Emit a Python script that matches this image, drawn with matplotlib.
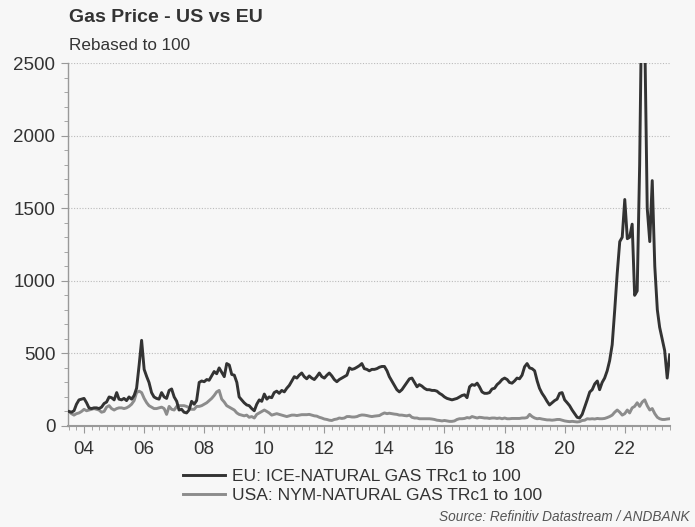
import matplotlib
matplotlib.use("Agg")
import matplotlib.pyplot as plt
import matplotlib.dates as mdates
from matplotlib.ticker import MultipleLocator
import pandas as pd

dates = pd.date_range("2003-07-01", periods=241, freq="MS")

eu = [
    # 2003 Jul-Dec
    100, 95, 105, 150, 180, 185,
    # 2004
    190, 160, 125, 120, 125, 125, 120, 130, 155, 165, 200, 195,
    # 2005
    180, 230, 185, 180, 190, 175, 200, 185, 210, 260, 420, 590,
    # 2006
    390, 340, 300, 230, 200, 190, 185, 230, 200, 190, 245, 255,
    # 2007
    200, 170, 110, 115, 95, 90, 110, 170, 150, 175, 300, 310,
    # 2008
    305, 320, 315, 345, 375, 360, 400, 370, 340, 430, 420, 355,
    # 2009
    350, 300, 200, 180, 160, 145, 140, 120, 105, 150, 180, 170,
    # 2010
    220, 185, 200, 195, 230, 240, 225, 245, 235, 260, 280, 310,
    # 2011
    340, 330, 350, 365, 340, 325, 345, 330, 320, 340, 365, 340,
    # 2012
    330, 350, 365, 345, 320, 305, 320, 330, 340, 350, 400, 390,
    # 2013
    395, 405, 415, 430, 395, 390, 380, 390, 390, 395, 405, 410,
    # 2014
    410, 380, 340, 310, 280, 250, 235, 250, 275, 300, 325, 330,
    # 2015
    300, 270, 285, 275, 260, 250, 250, 245, 245, 240, 225, 215,
    # 2016
    200, 190, 185, 180, 185, 190, 200, 210, 215, 195, 270, 285,
    # 2017
    280, 295, 270, 235, 225, 225, 230, 255, 260, 285, 300, 320,
    # 2018
    330, 320, 300, 295, 310, 330, 325, 350, 408, 430, 400, 395,
    # 2019
    380, 310, 260, 225, 200, 170, 145, 160, 175, 185, 225, 230,
    # 2020
    180, 160, 140, 110, 85, 60, 55, 80, 130, 180, 234, 250,
    # 2021
    290, 310, 250, 300, 330, 380, 450, 560, 800, 1050, 1270, 1300,
    # 2022
    1560, 1290, 1300, 1390, 900, 930, 1800, 3200, 2700, 1500, 1270, 1690,
    # 2023 Jan-Jul
    1100, 800, 680, 600, 520, 330, 490,
]

usa = [
    # 2003 Jul-Dec
    100, 85, 75, 85, 90, 100,
    # 2004
    115, 105, 110, 115, 120, 115, 110, 95, 100, 130, 140, 120,
    # 2005
    110, 120, 125, 125, 120, 125, 135, 150, 175, 230, 240, 230,
    # 2006
    190, 160, 140, 130, 120, 120, 125, 130, 120, 80, 135, 115,
    # 2007
    110, 135, 140, 140, 140, 135, 125, 115, 115, 135, 135, 140,
    # 2008
    150, 160, 175, 190, 210, 235, 245, 185, 165, 140, 130, 120,
    # 2009
    110, 90, 80, 75, 70, 75, 60, 65, 55, 80, 90, 100,
    # 2010
    110, 100, 90, 75, 80, 85, 80, 75, 70, 65, 70, 75,
    # 2011
    75, 72, 75, 78, 78, 78, 80, 75, 70, 68, 60, 55,
    # 2012
    48, 45, 40, 38, 45, 48, 55, 52, 55, 65, 65, 62,
    # 2013
    62, 65, 72, 76, 75, 72, 68, 65, 68, 70, 72, 82,
    # 2014
    90, 85, 88, 85, 82, 80, 75, 75, 72, 70, 75, 60,
    # 2015
    55, 55, 50, 50, 50, 50, 50, 48, 45, 40, 38, 35,
    # 2016
    38, 35, 32, 32, 35, 45, 50, 50, 52, 58, 55, 65,
    # 2017
    60, 55, 60, 58, 55, 55, 52, 55, 55, 52, 55, 50,
    # 2018
    55, 50, 50, 52, 52, 52, 52, 55, 55, 58, 80, 65,
    # 2019
    55, 50, 52, 48, 45, 42, 42, 40, 42, 45, 45, 40,
    # 2020
    35, 32, 30, 32, 30, 28, 30, 38, 40, 50, 48, 50,
    # 2021
    48, 52, 50, 50, 52, 58, 65, 75, 95, 110, 95, 75,
    # 2022
    85, 110, 90, 125, 135, 160, 135, 165, 180, 140, 110, 120,
    # 2023 Jan-Jul
    85, 60, 50, 45, 45, 48, 50,
]

tick_years = list(range(2004, 2024, 2))
tick_labels = [f"{y % 100:02d}" for y in tick_years]

title = "Gas Price - US vs EU"
subtitle = "Rebased to 100"
eu_label = "EU: ICE-NATURAL GAS TRc1 to 100"
usa_label = "USA: NYM-NATURAL GAS TRc1 to 100"
source = "Source: Refinitiv Datastream / ANDBANK"

plt.rcParams["font.family"] = ["Liberation Sans", "DejaVu Sans"]
bg = "#f7f7f7"
txt = "#333333"

fig = plt.figure(figsize=(6.95, 5.27), dpi=100, facecolor=bg)
ax = fig.add_axes([68 / 695, 101 / 527, 602 / 695, 363 / 527], facecolor=bg)

ax.plot(dates, eu, color="#333333", lw=2.1, label=eu_label, solid_joinstyle="round", zorder=3)
ax.plot(dates, usa, color="#8c8c8c", lw=2.1, label=usa_label, solid_joinstyle="round", zorder=2)

ax.set_ylim(0, 2500)
ax.set_xlim(pd.Timestamp("2003-06-20"), pd.Timestamp("2023-07-05"))
ax.yaxis.set_major_locator(MultipleLocator(500))
ax.yaxis.set_minor_locator(MultipleLocator(100))
ax.set_xticks([pd.Timestamp(f"{y}-01-01") for y in tick_years])
ax.set_xticklabels(tick_labels)
ax.xaxis.set_minor_locator(mdates.MonthLocator(bymonth=[1, 4, 7, 10]))

ax.grid(axis="y", which="major", color="#bbbbbb", linestyle=(0, (1, 1.5)), lw=0.8)
for s in ["top", "right"]:
    ax.spines[s].set_visible(False)
ax.spines["left"].set_color("#999999")
ax.spines["left"].set_linewidth(1.0)
ax.spines["bottom"].set_color("#999999")
ax.spines["bottom"].set_linewidth(1.5)

ax.tick_params(axis="both", which="major", labelsize=13.5, colors="#999999", labelcolor=txt, length=5)
ax.tick_params(axis="both", which="minor", colors="#999999", length=3)
ax.tick_params(axis="x", pad=6)
ax.tick_params(axis="y", pad=4)

fig.text(69 / 695, 1 - 18 / 527, title, fontsize=14, fontweight="bold", color=txt, va="center", ha="left")
fig.text(69 / 695, 1 - 45 / 527, subtitle, fontsize=12.3, color=txt, va="center", ha="left")

fig.legend(loc="upper left", bbox_to_anchor=(176 / 695, 1 - 462 / 527), frameon=False,
           fontsize=12.5, handlelength=2.4, handletextpad=0.4, labelspacing=0.2,
           labelcolor=txt, borderaxespad=0)

fig.text(690 / 695, 1 - 517 / 527, source, fontsize=9.8, style="italic", color="#555555",
         ha="right", va="center")

fig.savefig("out.png", dpi=100, facecolor=bg)
